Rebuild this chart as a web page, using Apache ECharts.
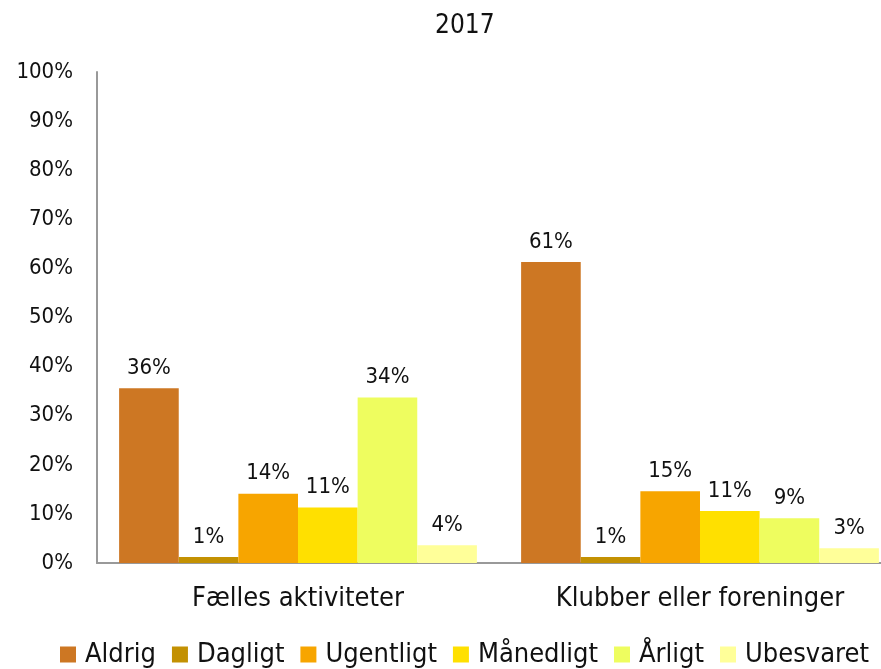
<!DOCTYPE html>
<html>
<head>
<meta charset="utf-8">
<script src="https://cdn.jsdelivr.net/npm/echarts@6/dist/echarts.min.js"></script>
<style>
  html, body { margin: 0; padding: 0; background: #fff; }
  #chart { width: 881px; height: 669px; }
</style>
</head>
<body>
<div id="chart"></div>
<script>
// categories and series
var categories = ['Fælles aktiviteter', 'Klubber eller foreninger']
var seriesNames = ['Aldrig', 'Dagligt', 'Ugentligt', 'Månedligt', 'Årligt', 'Ubesvaret']
var aldrig = [35.6, 61.3]
var dagligt = [1.2, 1.2]
var ugentligt = [14.1, 14.6]
var maanedligt = [11.3, 10.6]
var aarligt = [33.7, 9.1]
var ubesvaret = [3.6, 3.0]
var colors = ['#CD7723', '#C39102', '#F7A500', '#FFE000', '#EEFD5F', '#FFFF99']

var values = [aldrig, dagligt, ugentligt, maanedligt, aarligt, ubesvaret]
var font = '"DejaVu Sans Condensed", "DejaVu Sans", sans-serif'

var chart = echarts.init(document.getElementById('chart'))

var series = seriesNames.map(function (name, i) {
  return {
    name: name,
    type: 'bar',
    barGap: 0,
    barCategoryGap: '11%',
    data: values[i],
    itemStyle: { color: colors[i] },
    label: {
      show: true,
      position: 'top',
      distance: 9,
      color: '#111',
      fontFamily: font,
      fontSize: 22,
      formatter: function (p) { return Math.round(p.value) + '%' }
    }
  }
})

chart.setOption({
  animation: false,
  color: colors,
  title: {
    text: '2017',
    left: 430,
    top: 8,
    textStyle: { fontFamily: font, fontSize: 26, fontWeight: 'normal', color: '#111' }
  },
  legend: {
    top: 636,
    left: 55,
    right: 0,
    itemWidth: 16,
    itemHeight: 16,
    itemGap: 16,
    icon: 'rect',
    textStyle: { fontFamily: font, fontSize: 27, color: '#111', padding: [0, 0, 0, 4] },
    data: seriesNames
  },
  grid: { left: 97, width: 804, top: 72, bottom: 106, containLabel: false, outerBoundsMode: 'none' },
  xAxis: {
    type: 'category',
    data: categories,
    axisTick: { show: false },
    axisLine: { lineStyle: { color: '#999', width: 2 } },
    axisLabel: { fontFamily: font, fontSize: 27, color: '#111', margin: 22 }
  },
  yAxis: {
    type: 'value',
    min: 0,
    max: 100,
    interval: 10,
    splitLine: { show: false },
    axisTick: { show: false },
    axisLine: { show: true, lineStyle: { color: '#999', width: 2 } },
    axisLabel: { fontFamily: font, fontSize: 22, color: '#111', margin: 24, formatter: '{value}%' }
  },
  series: series
})
</script>
</body>
</html>
